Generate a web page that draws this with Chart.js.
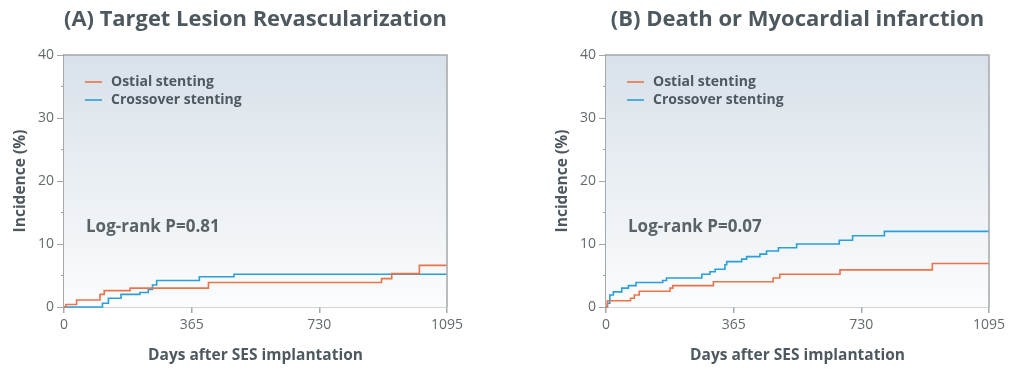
<!DOCTYPE html>
<html lang="en">
<head>
<meta charset="UTF-8">
<title>TLR and Death/MI</title>
<script src="https://cdn.jsdelivr.net/npm/chart.js"></script>
<style>
  body, html { margin: 0; padding: 0; background: #fff; }
  .wrap { position: relative; width: 1010px; height: 372px; }
  .panel { position: absolute; top: 0; width: 505px; height: 372px; }
  #panelA { left: 0; }
  #panelB { left: 505px; }
</style>
</head>
<body>
<div class="wrap">
  <div class="panel" id="panelA"><canvas id="chartA" width="505" height="372"></canvas></div>
  <div class="panel" id="panelB"><canvas id="chartB" width="505" height="372"></canvas></div>
</div>

<script>
// ticks
const xTicks = [0, 365, 730, 1095];
const yTicks = [0, 10, 20, 30, 40];
const yMinorTicks = [5, 15, 25, 35];

const seriesNames = ['Ostial stenting', 'Crossover stenting'];

// (A) Target Lesion Revascularization
const tlrOstialDays = [0, 5, 36, 103, 115, 189, 413, 908, 937, 1016, 1095];
const tlrOstialVals = [0, 0.4, 1.1, 2.0, 2.6, 3.0, 3.9, 4.5, 5.3, 6.6, 6.6];
const tlrCrossDays = [0, 110, 127, 163, 217, 241, 253, 265, 387, 486, 1095];
const tlrCrossVals = [0, 0.6, 1.4, 2.0, 2.3, 2.8, 3.5, 4.2, 4.8, 5.2, 5.2];

// (B) Death or Myocardial infarction
const dmiOstialDays = [0, 4, 70, 81, 95, 183, 191, 307, 478, 497, 669, 933, 1095];
const dmiOstialVals = [0, 1.0, 1.4, 1.9, 2.5, 3.0, 3.4, 4.0, 4.6, 5.2, 5.9, 6.9, 6.9];
const dmiCrossDays = [0, 4, 11, 21, 45, 64, 86, 162, 173, 274, 297, 312, 340, 345, 388, 402, 440, 459, 493, 545, 667, 705, 796, 1095];
const dmiCrossVals = [0, 0.6, 1.9, 2.4, 3.0, 3.4, 3.9, 4.2, 4.6, 5.2, 5.6, 6.0, 6.7, 7.2, 7.6, 8.0, 8.4, 8.9, 9.4, 10.0, 10.6, 11.3, 12.0, 12.0];

const ORANGE = '#e8744c';
const BLUE = '#2a9fd9';
const AXIS = '#a3a8ab';
const DARK = '#4e595f';
const TICKTXT = '#636a6e';

Chart.defaults.font.family = "'Open Sans', 'Noto Sans', sans-serif";

function toPoints(days, vals) {
  return days.map((d, i) => ({ x: d, y: vals[i] }));
}

// background gradient, frame, minor ticks, legend and log-rank text
const panelDecor = {
  id: 'panelDecor',
  beforeDatasetsDraw(chart) {
    const { ctx, chartArea: a } = chart;
    ctx.save();
    const g = ctx.createLinearGradient(0, a.top, 0, a.bottom);
    g.addColorStop(0, '#d8e1e9');
    g.addColorStop(1, '#fbfcfd');
    ctx.fillStyle = g;
    ctx.fillRect(a.left, a.top, a.right - a.left, a.bottom - a.top);
    ctx.restore();
  },
  afterDraw(chart, args, opts) {
    const { ctx, chartArea: a } = chart;
    const y = chart.scales.y;
    ctx.save();
    // top and right frame
    ctx.strokeStyle = AXIS;
    ctx.lineWidth = 1.5;
    ctx.beginPath();
    ctx.moveTo(a.left, a.top);
    ctx.lineTo(a.right, a.top);
    ctx.lineTo(a.right, a.bottom);
    ctx.stroke();
    // minor ticks
    ctx.lineWidth = 1;
    yMinorTicks.forEach(v => {
      const py = y.getPixelForValue(v);
      ctx.beginPath();
      ctx.moveTo(a.left - 3, py);
      ctx.lineTo(a.left, py);
      ctx.stroke();
    });
    // legend
    ctx.font = "bold 14px 'Open Sans', 'Noto Sans', sans-serif";
    ctx.textBaseline = 'middle';
    chart.data.datasets.forEach((ds, i) => {
      const ly = a.top + 27 + i * 18;
      ctx.strokeStyle = ds.borderColor;
      ctx.lineWidth = 1.6;
      ctx.beginPath();
      ctx.moveTo(a.left + 21, ly);
      ctx.lineTo(a.left + 38, ly);
      ctx.stroke();
      ctx.fillStyle = DARK;
      ctx.fillText(ds.label, a.left + 47, ly);
    });
    // log-rank
    ctx.font = "bold 17px 'Open Sans', 'Noto Sans', sans-serif";
    ctx.fillStyle = '#5a6468';
    ctx.fillText(opts.logrank, a.left + 22, a.top + 172);
    ctx.restore();
  }
};

function makeChart(id, title, logrank, oDays, oVals, cDays, cVals, padLeft, padRight) {
  const config = {
    type: 'line',
    data: {
      datasets: [
        {
          label: seriesNames[0],
          data: toPoints(oDays, oVals),
          borderColor: ORANGE,
          borderWidth: 1.6,
          pointRadius: 0,
          stepped: 'before',
          fill: false,
          clip: 5
        },
        {
          label: seriesNames[1],
          data: toPoints(cDays, cVals),
          borderColor: BLUE,
          borderWidth: 1.6,
          pointRadius: 0,
          stepped: 'before',
          fill: false,
          clip: 5
        }
      ]
    },
    options: {
      responsive: false,
      animation: false,
      layout: { padding: { left: padLeft, right: padRight, top: 0, bottom: 0 } },
      plugins: {
        legend: { display: false },
        tooltip: { enabled: false },
        title: {
          display: true,
          text: title,
          fullSize: false,
          color: DARK,
          font: { size: 22, weight: 'bold' },
          padding: { top: 7, bottom: 21.6 }
        },
        panelDecor: { logrank: logrank }
      },
      scales: {
        x: {
          type: 'linear',
          min: 0,
          max: 1095,
          afterBuildTicks: s => { s.ticks = xTicks.map(v => ({ value: v })); },
          afterFit: s => { s.height = 65; },
          ticks: { color: TICKTXT, font: { size: 14 }, padding: 4, maxRotation: 0, callback: v => String(v) },
          grid: { drawOnChartArea: false, color: AXIS, tickLength: 6, lineWidth: 1.5 },
          border: { color: AXIS, width: 1.5 },
          title: {
            display: true,
            text: 'Days after SES implantation',
            color: DARK,
            font: { size: 15.5, weight: 'bold' },
            padding: { top: 0, bottom: 7 }
          }
        },
        y: {
          min: 0,
          max: 40,
          afterBuildTicks: s => { s.ticks = yTicks.map(v => ({ value: v })); },
          afterFit: s => { s.width = 64; },
          ticks: { color: TICKTXT, font: { size: 14 }, padding: 3, callback: v => String(v) },
          grid: { drawOnChartArea: false, color: AXIS, tickLength: 7, lineWidth: 1 },
          border: { color: AXIS, width: 1.5 },
          title: {
            display: true,
            text: 'Incidence (%)',
            color: DARK,
            font: { size: 15.5, weight: 'bold' },
            padding: { top: 11, bottom: 0 }
          }
        }
      }
    },
    plugins: [panelDecor]
  };
  new Chart(document.getElementById(id).getContext('2d'), config);
}

makeChart('chartA', '(A) Target Lesion Revascularization', 'Log-rank P=0.81',
  tlrOstialDays, tlrOstialVals, tlrCrossDays, tlrCrossVals, 0, 58);
makeChart('chartB', '(B) Death or Myocardial infarction', 'Log-rank P=0.07',
  dmiOstialDays, dmiOstialVals, dmiCrossDays, dmiCrossVals, 37, 21);
</script>
</body>
</html>
